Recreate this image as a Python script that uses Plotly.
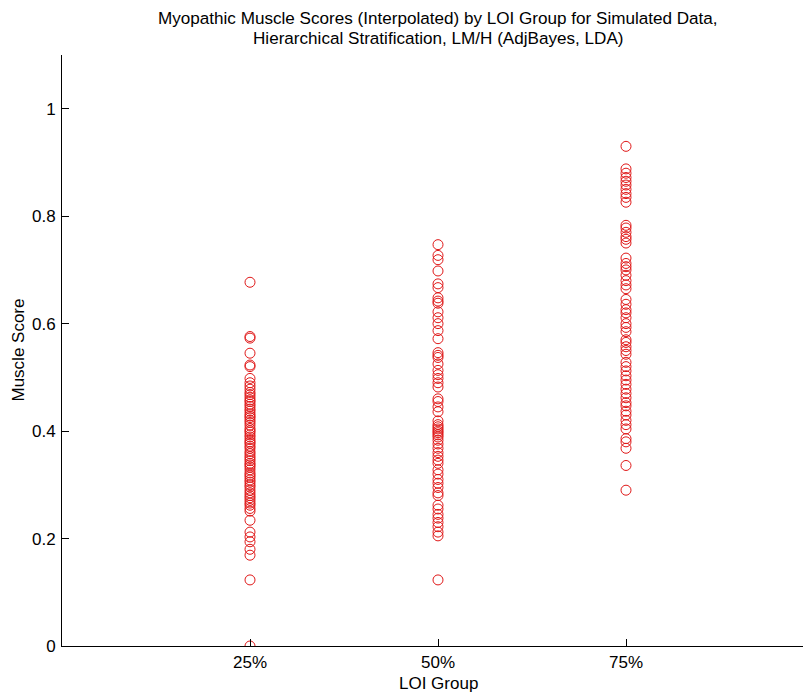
import plotly.graph_objects as go

categories = ["25%", "50%", "75%"]

scores_25 = [0.677, 0.576, 0.573, 0.545, 0.523, 0.520, 0.498, 0.490, 0.484, 0.478,
             0.472, 0.468, 0.463, 0.458, 0.455, 0.450, 0.446, 0.441, 0.437, 0.432,
             0.428, 0.425, 0.420, 0.416, 0.411, 0.405, 0.401, 0.398, 0.393, 0.389,
             0.384, 0.380, 0.377, 0.372, 0.368, 0.362, 0.358, 0.353, 0.349, 0.345,
             0.340, 0.337, 0.333, 0.328, 0.322, 0.318, 0.314, 0.309, 0.305, 0.300,
             0.296, 0.290, 0.285, 0.280, 0.276, 0.271, 0.266, 0.262, 0.256, 0.251,
             0.234, 0.212, 0.203, 0.194, 0.180, 0.169, 0.123, 0.0]

scores_50 = [0.747, 0.727, 0.719, 0.698, 0.674, 0.667, 0.648, 0.642, 0.638, 0.622,
             0.611, 0.600, 0.587, 0.572, 0.546, 0.541, 0.537, 0.525, 0.513, 0.505,
             0.498, 0.490, 0.482, 0.460, 0.455, 0.445, 0.436, 0.419, 0.412, 0.408,
             0.404, 0.400, 0.397, 0.393, 0.389, 0.383, 0.376, 0.368, 0.360, 0.353,
             0.346, 0.340, 0.328, 0.320, 0.310, 0.303, 0.295, 0.285, 0.280, 0.262,
             0.255, 0.245, 0.238, 0.230, 0.222, 0.212, 0.205, 0.123]

scores_75 = [0.930, 0.888, 0.880, 0.872, 0.865, 0.858, 0.850, 0.842, 0.835, 0.826,
             0.783, 0.778, 0.770, 0.762, 0.757, 0.750, 0.722, 0.712, 0.706, 0.700,
             0.690, 0.680, 0.672, 0.665, 0.645, 0.636, 0.626, 0.620, 0.611, 0.600,
             0.593, 0.585, 0.570, 0.565, 0.557, 0.550, 0.543, 0.528, 0.520, 0.512,
             0.503, 0.495, 0.487, 0.478, 0.470, 0.462, 0.453, 0.447, 0.437, 0.430,
             0.420, 0.412, 0.404, 0.386, 0.380, 0.368, 0.336, 0.290]

y_ticks = [0, 0.2, 0.4, 0.6, 0.8, 1]
y_tick_labels = ["0", "0.2", "0.4", "0.6", "0.8", "1"]

title_line1 = "Myopathic Muscle Scores (Interpolated) by LOI Group for Simulated Data,"
title_line2 = "Hierarchical Stratification, LM/H (AdjBayes, LDA)"
x_title = "LOI Group"
y_title = "Muscle Score"

groups = [scores_25, scores_50, scores_75]
xs, ys = [], []
for cat, vals in zip(categories, groups):
    xs += [cat] * len(vals)
    ys += vals

FONT = "Liberation Sans, Arial, sans-serif"
W, H = 803, 694
L, R, T, B = 62, 0, 55, 48
PW = W - L - R
cx = (438 - L) / PW
x_right = 2 + (W - 626) / 188

fig = go.Figure()
fig.add_trace(go.Scatter(
    x=xs, y=ys, mode="markers",
    marker=dict(symbol="circle-open", size=10, color="#e01818",
                line=dict(width=1, color="#e01818")),
    showlegend=False, hoverinfo="skip",
))

fig.update_layout(
    width=W, height=H,
    margin=dict(l=L, r=R, t=T, b=B, autoexpand=False),
    paper_bgcolor="white", plot_bgcolor="white",
    font=dict(family=FONT, size=16, color="black"),
    xaxis=dict(
        type="category", categoryorder="array", categoryarray=categories,
        range=[-1, x_right],
        showline=True, linecolor="black", linewidth=1,
        ticks="inside", ticklen=7, tickcolor="black",
        showgrid=False, zeroline=False, automargin=False,
        tickfont=dict(family=FONT, size=17), ticklabelstandoff=1,
    ),
    yaxis=dict(
        range=[0, 1.1],
        tickvals=y_ticks, ticktext=y_tick_labels,
        showline=True, linecolor="black", linewidth=1,
        ticks="inside", ticklen=7, tickcolor="black",
        showgrid=False, zeroline=False, automargin=False,
        tickfont=dict(family=FONT, size=17), ticklabelstandoff=2,
    ),
    annotations=[
        dict(text=title_line1, xref="paper", yref="paper", x=cx, y=1,
             xanchor="center", yanchor="middle", yshift=37, showarrow=False,
             font=dict(family=FONT, size=17.1, color="black")),
        dict(text=title_line2, xref="paper", yref="paper", x=cx, y=1,
             xanchor="center", yanchor="middle", yshift=17, showarrow=False,
             font=dict(family=FONT, size=17.1, color="black")),
        dict(text=x_title, xref="paper", yref="paper", x=cx, y=0,
             xanchor="center", yanchor="middle", yshift=-37, showarrow=False,
             font=dict(family=FONT, size=17, color="black")),
        dict(text=y_title, xref="paper", yref="paper", x=0, y=0.5,
             xanchor="center", yanchor="middle", xshift=-44, textangle=-90,
             showarrow=False, font=dict(family=FONT, size=17, color="black")),
    ],
)
fig.write_html(
    "out.html",
    config={"displayModeBar": False},
    post_script="document.body.style.margin='0';document.body.style.overflow='hidden';",
)
